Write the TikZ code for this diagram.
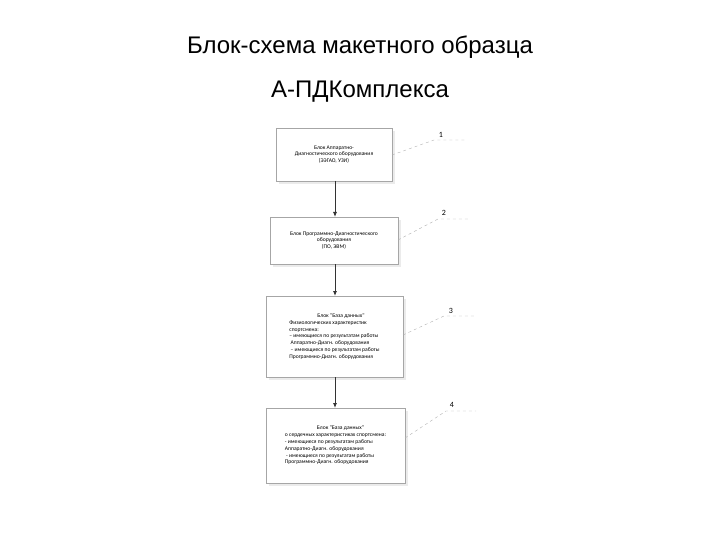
\documentclass[tikz,border=0pt]{standalone}
\usepackage{fontspec}
\usetikzlibrary{arrows.meta}
\setmainfont{Liberation Sans}
\newfontfamily\boxfont{Carlito}
\begin{document}
\begin{tikzpicture}[x=1pt,y=-1pt,
  blk/.style={align=center,font=\boxfont\fontsize{5.6}{6.8}\selectfont,inner sep=2pt},
  lblk/.style={align=left,font=\boxfont\fontsize{5.6}{6.8}\selectfont,inner sep=2pt},
  shd/.style={fill=black!8,draw=none},
  frame/.style={draw=black!35,fill=white},
  arr/.style={-{Latex[length=5pt,width=4pt]},thick,black!80},
  lead/.style={draw=black!30,dashed,thin},
  num/.style={font=\boxfont\fontsize{8}{9}\selectfont}]
\useasboundingbox (0,0) rectangle (720,540);
\node[font=\fontsize{24}{28}\selectfont] (t1) at (360,47) {Блок-схема макетного образца};
\node[font=\fontsize{24}{28}\selectfont] (t2) at (360,92) {А-ПДКомплекса};
\fill[shd] (279,131) rectangle (395,184);
\fill[shd] (273,220) rectangle (401,267);
\fill[shd] (269,299) rectangle (406,380);
\fill[shd] (269,411) rectangle (408,486);
\draw[frame] (276,128) rectangle (392,181);
\draw[frame] (270,217) rectangle (398,264);
\draw[frame] (266,296) rectangle (403,377);
\draw[frame] (266,408) rectangle (405,483);
\node[blk] (b1) at (334,154.5) {Блок Аппаратно-\\Диагностического оборудования\\(ЭЭГАО, УЗИ)};
\node[blk] (b2) at (334,240.5) {Блок Программно-Диагностического\\оборудования\\(ПО, ЭВМ)};
\node[lblk] (b3) at (334.5,336.5) {\hspace*{28pt}Блок "База данных"\\Физиологических характеристик\\спортсмена:\\– имеющиеся по результатам работы\\\ Аппаратно-Диагн. оборудования\\\ – имеющиеся по результатам работы\\Программно-Диагн. оборудования};
\node[lblk] (b4) at (335.5,445.5) {\hspace*{32pt}Блок "База данных"\\о сердечных характеристиках спортсмена:\\- имеющиеся по результатам работы\\Аппаратно-Диагн. оборудования\\\ - имеющиеся по результатам работы\\Программно-Диагн. оборудования};
\coordinate (a1) at (335,181); \coordinate (a2) at (335,217);
\coordinate (a3) at (335,264); \coordinate (a4) at (335,296);
\coordinate (a5) at (335,377); \coordinate (a6) at (335,408);
\draw[arr] (a1) -- (a2);
\draw[arr] (a3) -- (a4);
\draw[arr] (a5) -- (a6);
\node[num] (n1) at (441,135) {1};
\node[num] (n2) at (444,213) {2};
\node[num] (n3) at (451,311) {3};
\node[num] (n4) at (452,405) {4};
\draw[lead] (392,155) -- (434,140) -- (465,140);
\draw[lead] (398,240) -- (438,219) -- (468,219);
\draw[lead] (403,335) -- (444,316) -- (475,316);
\draw[lead] (405,438) -- (446,411) -- (476,411);
\end{tikzpicture}
\end{document}
